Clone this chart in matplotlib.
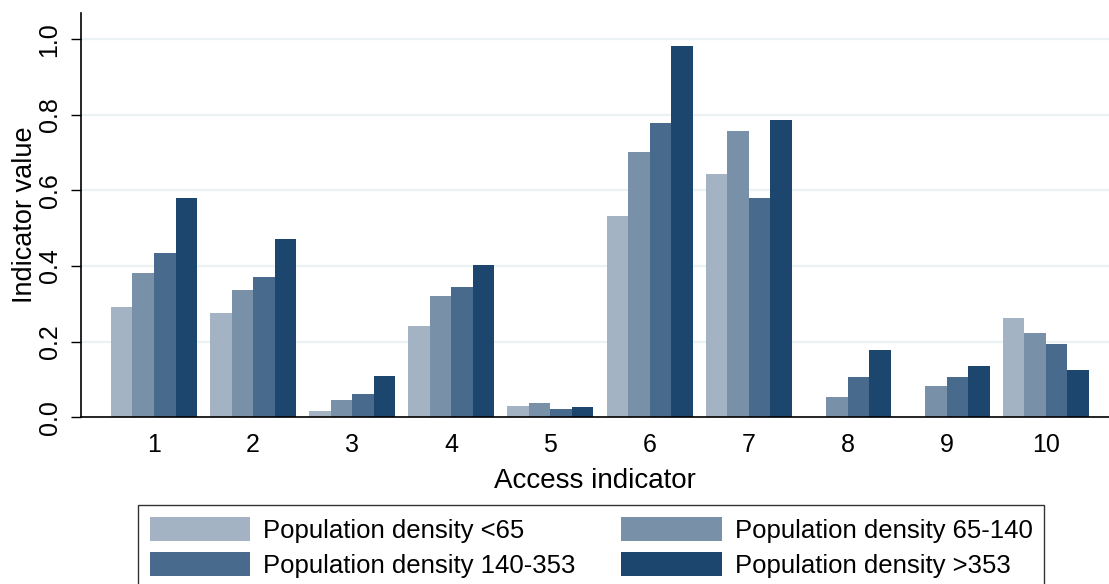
import numpy as np
import matplotlib
matplotlib.use("Agg")
import matplotlib.pyplot as plt

plt.rcParams['font.family'] = ['Liberation Sans', 'DejaVu Sans']

# access indicators 1..10
indicators = np.arange(1, 11)
series_names = ["Population density <65", "Population density 65-140",
                "Population density 140-353", "Population density >353"]
dens_lt65 = [0.292, 0.276, 0.017, 0.241, 0.029, 0.533, 0.644, 0.0, 0.0, 0.262]
dens_65_140 = [0.381, 0.337, 0.045, 0.321, 0.039, 0.701, 0.757, 0.055, 0.082, 0.223]
dens_140_353 = [0.434, 0.371, 0.063, 0.345, 0.023, 0.778, 0.580, 0.107, 0.106, 0.194]
dens_gt353 = [0.580, 0.472, 0.108, 0.403, 0.026, 0.981, 0.785, 0.178, 0.135, 0.125]
yticks = [0.0, 0.2, 0.4, 0.6, 0.8, 1.0]

colors = ["#A4B3C3", "#7890A8", "#486A8C", "#1C466E"]
all_series = [dens_lt65, dens_65_140, dens_140_353, dens_gt353]

fig = plt.figure(figsize=(11.09, 5.84), dpi=100)
ax = fig.add_axes([0.073, 0.2854, 0.927, 0.6929])

w = 0.217
handles = []
for i, (vals, c) in enumerate(zip(all_series, colors)):
    b = ax.bar(indicators + (i - 1.5) * w, vals, width=w, color=c, linewidth=0)
    handles.append(b)

ax.set_xlim(0.263, 10.636)
ax.set_ylim(0, 1.07)
ax.set_yticks(yticks)
ax.set_yticklabels([f"{t:.1f}" for t in yticks], rotation=90, va='center')
ax.set_xticks(indicators)
ax.grid(axis='y', color='#EAF2F3', linewidth=1.6)
ax.set_axisbelow(True)

for s in ['top', 'right']:
    ax.spines[s].set_visible(False)
for s in ['left', 'bottom']:
    ax.spines[s].set_linewidth(1.2)
ax.tick_params(axis='y', length=7, width=1, pad=7, labelsize=18)
ax.tick_params(axis='x', length=0, pad=11, labelsize=18)

ax.set_ylabel("Indicator value", fontsize=19.5, labelpad=0)
ax.set_xlabel("Access indicator", fontsize=20, labelpad=8)

order = [0, 2, 1, 3]
leg = fig.legend([handles[k] for k in order], [series_names[k] for k in order],
                 ncol=2, loc='upper center', bbox_to_anchor=(0.533, 1 - 505 / 584),
                 borderaxespad=0,
                 fontsize=18.5, frameon=True, fancybox=False, edgecolor='black',
                 handlelength=3.9, handleheight=1.1, handletextpad=0.5,
                 columnspacing=1.8, borderpad=0.45, labelspacing=0.35)
leg.get_frame().set_linewidth(1.0)

fig.savefig("out.png", dpi=100)
